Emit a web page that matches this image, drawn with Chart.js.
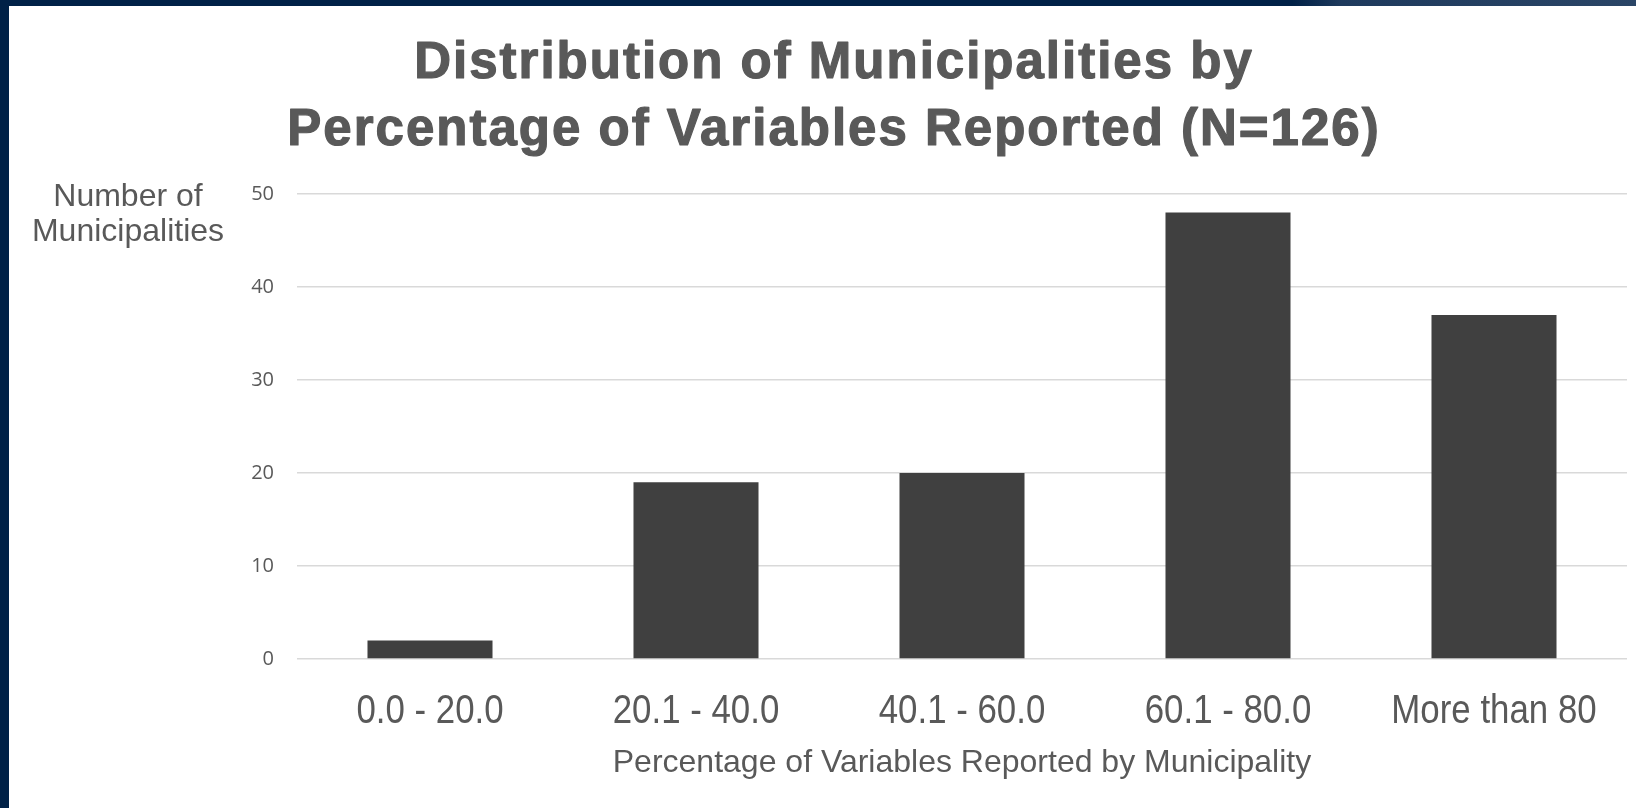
<!DOCTYPE html>
<html>
<head>
<meta charset="utf-8">
<title>Distribution of Municipalities</title>
<script src="https://cdn.jsdelivr.net/npm/chart.js@4"></script>
<style>
  html, body {
    margin: 0;
    padding: 0;
    width: 1636px;
    height: 808px;
    overflow: hidden;
    background: linear-gradient(90deg, #002147 0%, #002147 79%, #1e3a5d 82%, #2a4566 100%);
  }
  #wrap {
    position: absolute;
    left: 9px;
    top: 6px;
    width: 1627px;
    height: 802px;
    background: #ffffff;
  }
</style>
</head>
<body>
<div id="wrap"><canvas id="chart" width="1627" height="802"></canvas></div>
<script>
// Chart data
const categories = ["0.0 - 20.0", "20.1 - 40.0", "40.1 - 60.0", "60.1 - 80.0", "More than 80"];
const municipalityCounts = [2, 19, 20, 48, 37];
const yTicks = [0, 10, 20, 30, 40, 50];

const titleLines = ["Distribution of Municipalities by", "Percentage of Variables Reported (N=126)"];
const yTitleLines = ["Number of", "Municipalities"];
const xTitle = "Percentage of Variables Reported by Municipality";

const textColor = "#595959";
const sansFont = "'Liberation Sans', Arial, sans-serif";

// Draws the main title, the horizontal y-axis title and the narrow category labels
const headingPlugin = {
  id: "headings",
  afterDraw(chart) {
    const ctx = chart.ctx;
    ctx.save();
    ctx.fillStyle = textColor;
    ctx.strokeStyle = textColor;
    ctx.textAlign = "center";
    ctx.textBaseline = "middle";

    // heavy title: bold face plus a thin stroke
    ctx.font = "bold 51px " + sansFont;
    ctx.letterSpacing = "2px";
    ctx.lineWidth = 1.2;
    ctx.lineJoin = "round";
    titleLines.forEach((line, i) => {
      const y = i === 0 ? 58 : 125;
      ctx.fillText(line, 825, y);
      ctx.strokeText(line, 825, y);
    });

    ctx.letterSpacing = "0px";
    ctx.font = "32px " + sansFont;
    ctx.fillText(yTitleLines[0], 119, 191);
    ctx.fillText(yTitleLines[1], 119, 226);

    // category labels in a condensed face (no narrow font installed, so squeeze it)
    const xScale = chart.scales.x;
    ctx.font = "41px " + sansFont;
    categories.forEach((label, i) => {
      ctx.save();
      ctx.translate(xScale.getPixelForValue(i), 706);
      ctx.scale(0.85, 1);
      ctx.fillText(label, 0, 0);
      ctx.restore();
    });
    ctx.restore();
  }
};

const ctx = document.getElementById("chart").getContext("2d");
const chart = new Chart(ctx, {
  type: "bar",
  data: {
    labels: categories,
    datasets: [
      {
        label: "Municipalities",
        data: municipalityCounts,
        backgroundColor: "#404040",
        barPercentage: 0.47,
        categoryPercentage: 1.0
      }
    ]
  },
  options: {
    responsive: false,
    animation: false,
    layout: {
      padding: { top: 188, right: 9, bottom: 0, left: 0 }
    },
    plugins: {
      legend: { display: false },
      tooltip: { enabled: false }
    },
    scales: {
      x: {
        grid: { display: false },
        border: { display: false },
        ticks: { display: false },
        title: {
          display: true,
          text: xTitle,
          color: textColor,
          padding: { top: 0, bottom: 26 },
          font: { family: sansFont, size: 32 }
        },
        afterFit(scale) {
          scale.height = 149;
        }
      },
      y: {
        min: 0,
        max: 50,
        afterBuildTicks(scale) {
          scale.ticks = yTicks.map(v => ({ value: v }));
        },
        grid: {
          color: "#d9d9d9",
          lineWidth: 1.5,
          drawTicks: false
        },
        border: { display: false },
        ticks: {
          color: textColor,
          padding: 23,
          font: { family: "'Open Sans', sans-serif", size: 20 }
        },
        afterFit(scale) {
          scale.width = 288;
        }
      }
    }
  },
  plugins: [headingPlugin]
});
</script>
</body>
</html>
